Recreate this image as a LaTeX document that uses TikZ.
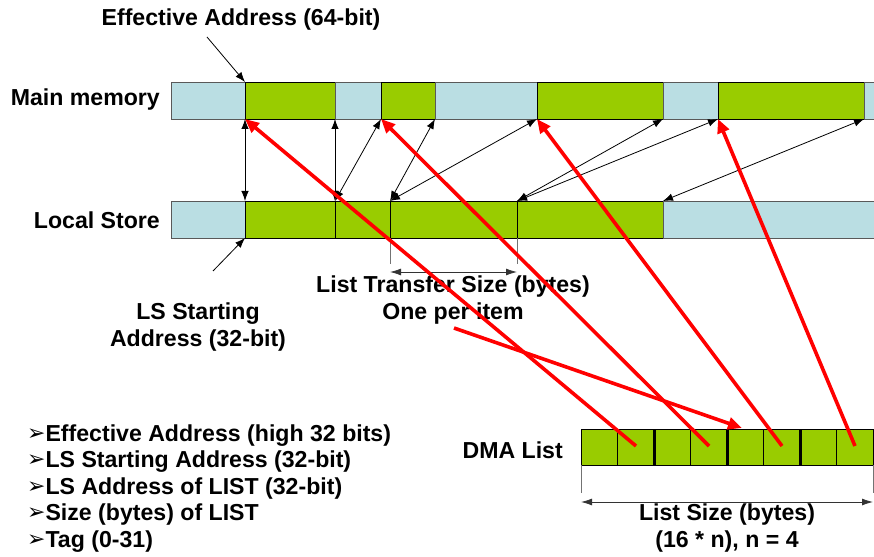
\documentclass[tikz,border=0pt]{standalone}
\usepackage{fontspec}
\setmainfont{Liberation Sans}
\newfontfamily\dejavu{DejaVu Sans}
\usetikzlibrary{arrows.meta}
\definecolor{lsblue}{RGB}{186,222,227}
\definecolor{lsgreen}{RGB}{153,204,0}
\begin{document}
\begin{tikzpicture}[x=1bp,y=-1bp,
  lbl/.style={font=\fontsize{23.2}{27}\selectfont\bfseries, inner sep=0pt},
  bluecell/.style={fill=lsblue, draw=black!65, line width=0.8bp},
  greencell/.style={fill=lsgreen, draw=black, line width=0.8bp},
  map/.style={line width=0.8bp, {Latex[length=10bp,width=7.5bp]}-{Latex[length=10bp,width=7.5bp]}},
  ptr/.style={line width=0.8bp, -{Latex[length=10bp,width=7.5bp]}},
  redarrow/.style={draw=red, line width=3.6bp, -{Triangle[length=14bp,width=12bp]}},
  dimline/.style={line width=0.8bp, draw=black!80, {Latex[length=11bp,width=7bp]}-{Latex[length=11bp,width=7bp]}},
  tickline/.style={line width=0.8bp, draw=black!55},
  bul/.style={lbl, anchor=base west}
]
\useasboundingbox (0,0) rectangle (874,557);
\clip (0,0) rectangle (874,557);

% Main memory bar
\draw[bluecell]  (171,82) rectangle (245,119);
\draw[greencell] (245,82) rectangle (335,119);
\draw[bluecell]  (335,82) rectangle (381,119);
\draw[greencell] (381,82) rectangle (435,119);
\draw[bluecell]  (435,82) rectangle (537,119);
\draw[greencell] (537,82) rectangle (663,119);
\draw[bluecell]  (663,82) rectangle (718,119);
\draw[greencell] (718,82) rectangle (864,119);
\draw[bluecell]  (864,82) rectangle (890,119);

% Local store bar
\draw[bluecell]  (171,201) rectangle (245,238);
\draw[greencell] (245,201) rectangle (335,238);
\draw[greencell] (335,201) rectangle (390,238);
\draw[greencell] (390,201) rectangle (517,238);
\draw[greencell] (517,201) rectangle (663,238);
\draw[bluecell]  (663,201) rectangle (890,238);

% boundary coordinates
\coordinate (M1) at (245,119);
\coordinate (M2) at (335,119);
\coordinate (M3) at (381,119);
\coordinate (M4) at (435,119);
\coordinate (M5) at (537,119);
\coordinate (M6) at (663,119);
\coordinate (M7) at (718,119);
\coordinate (M8) at (864,119);
\coordinate (L1) at (245,201);
\coordinate (L2) at (335,201);
\coordinate (L3) at (390,201);
\coordinate (L4) at (517,201);
\coordinate (L5) at (663,201);

% mapping arrows
\draw[map] (L1) -- (M1);
\draw[map] (L2) -- (M2);
\draw[map] (L2) -- (M3);
\draw[map] (L3) -- (M4);
\draw[map] (L3) -- (M5);
\draw[map] (L4) -- (M6);
\draw[map] (L4) -- (M7);
\draw[map] (L5) -- (M8);

% labels
\node[lbl] (ea) at (241,20) {Effective Address (64-bit)};
\node[lbl, anchor=east] (mm) at (160,100) {Main memory};
\node[lbl, anchor=east] (lsl) at (160,220) {Local Store};
\node[lbl, align=center] (lsa) at (198,327) {LS Starting\\Address (32-bit)};
\node[lbl, align=center] (lts) at (453,300) {List Transfer Size (bytes)\\One per item};
\node[lbl, anchor=east] (dma) at (563,450) {DMA List};
\node[lbl, align=center] (lsz) at (727,528) {List Size (bytes)\\(16 * n), n = 4};

\coordinate (eaS) at (207,37);
\coordinate (M0) at (245,82);
\draw[ptr] (eaS) -- (M0);
\coordinate (lsS) at (213,271);
\coordinate (L0) at (245,238);
\draw[ptr] (lsS) -- (L0);

% list transfer size dimension
\coordinate (t1) at (390,238);
\coordinate (t2) at (517,238);
\draw[tickline] (t1) -- ++(0,26) coordinate (t1b);
\draw[tickline] (t2) -- ++(0,26) coordinate (t2b);
\draw[dimline] ([yshift=-8bp]t1b) -- ([yshift=-8bp]t2b);

% DMA list
\foreach \i in {0,...,7} {
  \draw[greencell] (581+\i*36.5,429) rectangle (581+\i*36.5+36.5,465);
}
\foreach \x in {654,727,800} {
  \draw[line width=3bp] (\x,429) -- (\x,465);
}
\coordinate (d0) at (581,465);
\coordinate (d9) at (873,465);
\draw[tickline] (d0) -- ++(0,28) coordinate (d0b);
\draw[tickline] (d9) -- ++(0,28) coordinate (d9b);
\draw[dimline] ([yshift=-9bp]d0b) -- ([yshift=-9bp]d9b);

% bullets
\newcommand\bmark{\raisebox{0.5bp}{\dejavu\fontsize{22}{22}\selectfont ➢}}
\node[bul] (b1) at (27,441) {\bmark Effective Address (high 32 bits)};
\node[bul] (b2) at (27,467) {\bmark LS Starting Address (32-bit)};
\node[bul] (b3) at (27,494) {\bmark LS Address of LIST (32-bit)};
\node[bul] (b4) at (27,520) {\bmark Size (bytes) of LIST};
\node[bul] (b5) at (27,547) {\bmark Tag (0-31)};

% red arrows
\coordinate (D1) at (636,446);
\coordinate (D2) at (709,446);
\coordinate (D3) at (782,446);
\coordinate (D4) at (855,446);
\draw[redarrow] (D1) -- (M1);
\draw[redarrow] (D2) -- (M3);
\draw[redarrow] (D3) -- (M5);
\draw[redarrow] (D4) -- (M7);
\coordinate (P) at (454,328);
\coordinate (Q) at (742,428);
\draw[redarrow] (P) -- (Q);
\end{tikzpicture}
\end{document}
